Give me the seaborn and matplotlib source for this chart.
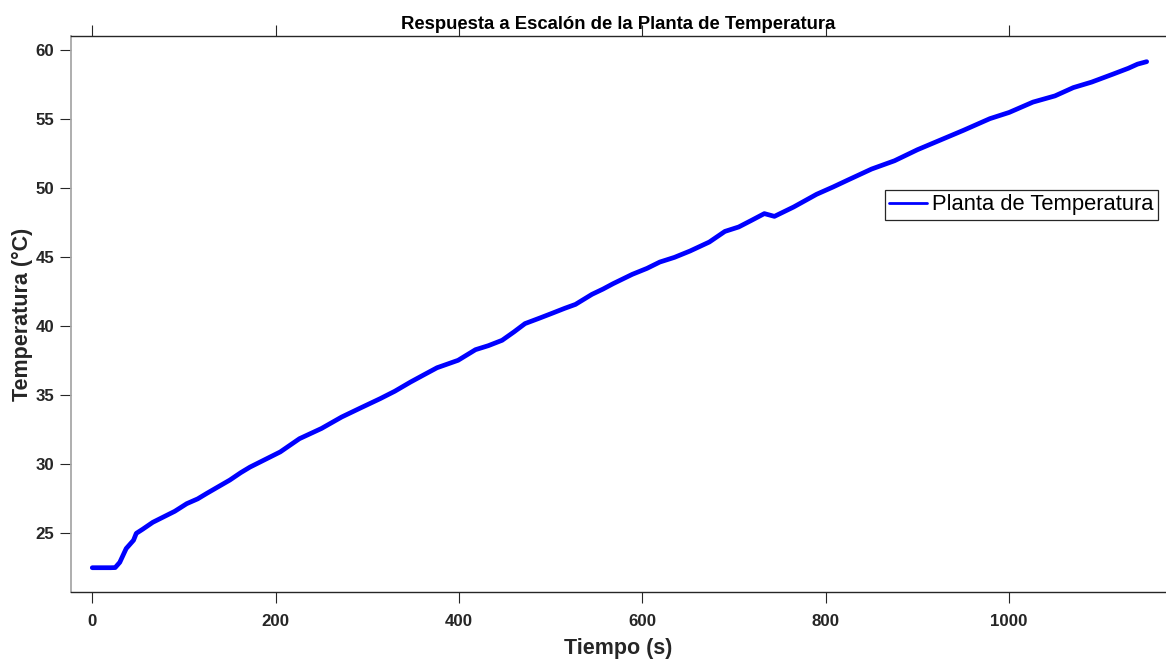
import numpy as np
import pandas as pd
import matplotlib
matplotlib.use("Agg")
import matplotlib.pyplot as plt
import seaborn as sns

# Data
tiempo = [0, 10, 20, 25, 30, 37, 45, 48, 55, 66, 81, 90, 103, 115, 125, 138, 150,
          162, 172, 190, 205, 226, 250, 272, 293, 314, 330, 347, 362, 376, 399,
          418, 432, 447, 460, 472, 488, 502, 515, 527, 545, 557, 568, 589, 605,
          619, 635, 652, 673, 690, 705, 719, 733, 744, 765, 790, 808, 825, 850,
          875, 900, 925, 950, 979, 1000, 1026, 1050, 1070, 1090, 1113, 1130,
          1140, 1150]
temperatura = [22.51, 22.51, 22.51, 22.52, 22.9, 23.9, 24.5, 25.0, 25.3, 25.8,
               26.3, 26.6, 27.15, 27.5, 27.9, 28.4, 28.86, 29.4, 29.8, 30.4,
               30.9, 31.86, 32.6, 33.43, 34.1, 34.76, 35.3, 35.96, 36.5, 37.0,
               37.54, 38.31, 38.6, 38.99, 39.6, 40.2, 40.6, 40.96, 41.3, 41.59,
               42.32, 42.7, 43.09, 43.77, 44.2, 44.66, 45.0, 45.46, 46.11, 46.88,
               47.2, 47.68, 48.17, 47.97, 48.65, 49.57, 50.1, 50.63, 51.4, 52.0,
               52.8, 53.5, 54.2, 55.05, 55.5, 56.25, 56.7, 57.3, 57.7, 58.27,
               58.7, 59.0, 59.18]
serie = "Planta de Temperatura"
x_ticks = [0, 200, 400, 600, 800, 1000]
y_ticks = [25, 30, 35, 40, 45, 50, 55, 60]
titulo = "Respuesta a Escalón de la Planta de Temperatura"
x_label = "Tiempo (s)"
y_label = "Temperatura (°C)"

df = pd.DataFrame({"t": tiempo, "T": temperatura, "serie": serie})

sns.set_theme(style="white")
plt.rcParams["font.family"] = ["Liberation Sans", "DejaVu Sans"]

W, H = 1166, 662
fig = plt.figure(figsize=(W / 100, H / 100), dpi=100)
ax = fig.add_axes([71 / W, 1 - 592 / H, (1165 - 71) / W, (592 - 36) / H])

sns.lineplot(data=df, x="t", y="T", hue="serie", palette=["#0000ff"],
             linewidth=3.4, ax=ax, legend=True)

ax.set_xlim(-23.2, 1170)
ax.set_ylim(20.75, 61.04)
ax.set_xticks(x_ticks)
ax.set_yticks(y_ticks)

dark = "#262626"
ax.tick_params(axis="both", which="major", direction="out", length=8, width=0.8,
               color=dark, labelcolor=dark, labelsize=12.2)
ax.tick_params(axis="x", top=True, labeltop=False, bottom=True, pad=8)
ax.tick_params(axis="y", left=True, right=False, pad=4)
for lab in ax.get_xticklabels() + ax.get_yticklabels():
    lab.set_fontweight("bold")

for side in ["top", "bottom"]:
    ax.spines[side].set_color(dark)
    ax.spines[side].set_linewidth(1.0)
ax.spines["left"].set_color("#a8a8a8")
ax.spines["left"].set_linewidth(1.3)
ax.spines["right"].set_visible(False)

ax.set_title(titulo, fontsize=13.3, fontweight="bold", color="black", pad=5)
ax.set_xlabel(x_label, fontsize=15.5, fontweight="bold", color=dark, labelpad=6)
ax.set_ylabel(y_label, fontsize=15.5, fontweight="bold", color=dark, labelpad=2)

leg = ax.legend(loc="upper right", bbox_to_anchor=(0.9936, 0.723), borderaxespad=0,
                fontsize=15.8, frameon=True, fancybox=False, framealpha=1,
                edgecolor=dark, borderpad=0.2, handlelength=1.7, handletextpad=0.25)
leg.get_frame().set_linewidth(0.9)
for h in leg.legend_handles:
    h.set_linewidth(2)
for txt in leg.get_texts():
    txt.set_color("black")

fig.savefig("out.png", dpi=100, facecolor="white")
